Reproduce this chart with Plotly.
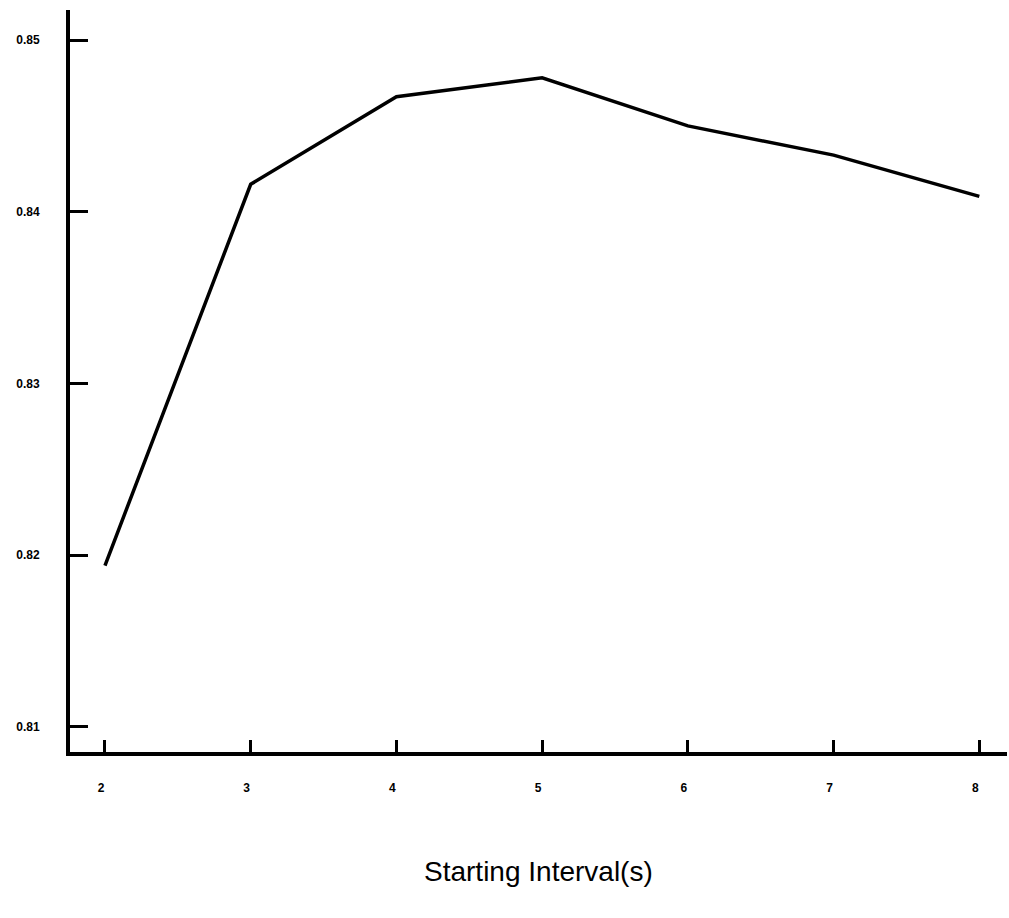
import plotly.graph_objects as go

intervals = [2, 3, 4, 5, 6, 7, 8]
scores = [0.8194, 0.8416, 0.8467, 0.8478, 0.8450, 0.8433, 0.8409]
y_ticks = [0.81, 0.82, 0.83, 0.84, 0.85]
y_tick_labels = ["0.81", "0.82", "0.83", "0.84", "0.85"]
x_title = "Starting Interval(s)"

fig = go.Figure()
fig.add_trace(go.Scatter(x=intervals, y=scores, mode="lines",
                         line=dict(color="black", width=3.5), showlegend=False))

fig.update_layout(
    width=1009, height=918,
    margin=dict(l=70, r=2, t=10, b=166),
    paper_bgcolor="white", plot_bgcolor="white",
    font=dict(family="Liberation Sans, Arial, sans-serif", color="black"),
    xaxis=dict(range=[1.76, 8.19], tickvals=intervals, ticktext=[str(v) for v in intervals],
               showgrid=False, zeroline=False, showline=True, linecolor="black", linewidth=4,
               ticks="inside", ticklen=12, tickwidth=3, tickcolor="black",
               tickfont=dict(size=12, weight="bold"), ticklabelstandoff=22,
               ticklabelshift=-4),
    yaxis=dict(range=[0.80854, 0.85175], tickvals=y_ticks, ticktext=y_tick_labels,
               showgrid=False, zeroline=False, showline=True, linecolor="black", linewidth=4,
               ticks="inside", ticklen=18, tickwidth=3, tickcolor="black",
               tickfont=dict(size=12, weight="bold"), ticklabelstandoff=24),
    annotations=[dict(text=x_title, xref="paper", yref="paper", x=0.5, y=-0.1604,
                      xanchor="center", yanchor="middle", showarrow=False,
                      font=dict(size=28, family="Liberation Sans, Arial, sans-serif"))],
)

fig.write_html("out.html")
